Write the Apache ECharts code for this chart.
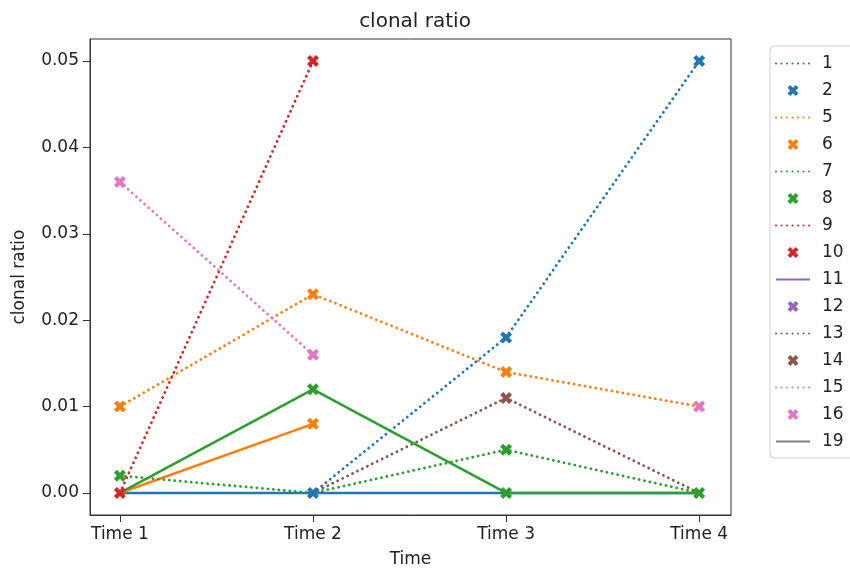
<!DOCTYPE html>
<html lang="en">
<head>
  <meta charset="UTF-8">
  <title>clonal ratio</title>
  <script src="https://cdn.jsdelivr.net/npm/echarts@6/dist/echarts.min.js"></script>
</head>
<body style="margin:0;">
  <div id="main" style="width: 850px;height:568px;"></div>
  <script>
    const times = ['Time 1', 'Time 2', 'Time 3', 'Time 4'];
    const yTicks = [0, 0.01, 0.02, 0.03, 0.04, 0.05];

    // values per time point, null = nothing drawn there
    const dotted1 = [null, 0, 0.018, 0.05];
    const marks2 = [null, 0, 0.018, 0.05];
    const dotted5 = [0.01, 0.023, 0.014, 0.01];
    const marks6 = [0.01, 0.023, 0.014, null];
    const marks6b = [null, 0.008, null, null];
    const dotted7 = [0.002, 0, 0.005, 0];
    const marks8 = [0.002, 0.012, 0.005, 0];
    const marks8b = [null, null, 0, null];
    const dotted9 = [0, 0.05, null, null];
    const marks10 = [0, 0.05, null, null];
    const solid11 = [null, null, null, null];
    const marks12 = [null, null, null, null];
    const dotted13 = [null, 0, 0.011, 0];
    const marks14 = [null, null, 0.011, null];
    const dotted15 = [0.036, 0.016, null, null];
    const marks16 = [0.036, 0.016, null, 0.01];
    const solid19 = [null, null, null, null];
    // solid lines that have no legend entry
    const solidBlue = [0, 0, 0, 0];
    const solidOrange = [0, 0.008, null, null];
    const solidGreen = [0, 0.012, 0, 0];

    const C = {
      blue: '#1f77b4', orange: '#ff7f0e', green: '#2ca02c', red: '#d62728',
      purple: '#9467bd', brown: '#8c564b', pink: '#e377c2', gray: '#7f7f7f'
    };
    const xMark = 'path://M0,2.5L2.5,0L5,2.5L7.5,0L10,2.5L7.5,5L10,7.5L7.5,10L5,7.5L2.5,10L0,7.5L2.5,5Z';

    function pts(arr) {
      const out = [];
      arr.forEach((v, i) => { if (v !== null) out.push([i, v]); });
      return out;
    }
    function line(name, arr, color, dotted, z) {
      return {
        name: name, type: 'line', data: pts(arr), symbol: 'none', z: z || 2,
        lineStyle: dotted
          ? { color: color, width: 2.8, type: [0.1, 5.4], cap: 'round' }
          : { color: color, width: 2.5, type: 'solid' },
        itemStyle: { color: color },
        emphasis: { disabled: true }, animation: false
      };
    }
    function marks(name, arrs, color, z) {
      let d = [];
      arrs.forEach(a => { d = d.concat(pts(a)); });
      return {
        name: name, type: 'scatter', data: d, symbol: xMark, symbolSize: 12, z: z || 5,
        itemStyle: { color: color, opacity: 1 },
        emphasis: { disabled: true }, animation: false
      };
    }

    const lineNames = ['1', '5', '7', '9', '11', '13', '15', '19'];
    const legendNames = ['1', '2', '5', '6', '7', '8', '9', '10', '11', '12', '13', '14', '15', '16', '19'];

    const series = [
      line('', solidBlue, C.blue, false, 2),
      line('', solidOrange, C.orange, false, 2),
      line('', solidGreen, C.green, false, 3),
      line('1', dotted1, C.blue, true),
      marks('2', [marks2], C.blue, 7),
      line('5', dotted5, C.orange, true),
      marks('6', [marks6, marks6b], C.orange),
      line('7', dotted7, C.green, true),
      marks('8', [marks8, marks8b], C.green),
      line('9', dotted9, C.red, true),
      marks('10', [marks10], C.red, 6),
      line('11', solid11, C.purple, false),
      marks('12', [marks12], C.purple),
      line('13', dotted13, C.brown, true),
      marks('14', [marks14], C.brown),
      line('15', dotted15, C.pink, true),
      marks('16', [marks16], C.pink, 6),
      line('19', solid19, C.gray, false)
    ];

    const myChart = echarts.init(document.getElementById('main'));
    const font = 'DejaVu Sans';
    myChart.setOption({
      backgroundColor: '#fff',
      textStyle: { fontFamily: font },
      title: {
        text: 'clonal ratio', left: 410, top: 7, textAlign: 'center',
        textStyle: { fontFamily: font, fontSize: 20, fontWeight: 'normal', color: '#222' }
      },
      grid: {
        left: 90, top: 39, width: 641, height: 476, outerBoundsMode: 'none',
        show: true, borderColor: '#333', borderWidth: 1
      },
      legend: {
        data: legendNames.map(n => lineNames.includes(n)
          ? { name: n, itemStyle: { opacity: 0 } }
          : { name: n }),
        orient: 'vertical', left: 770, top: 46,
        itemWidth: 34, itemHeight: 11, itemGap: 10,
        padding: [9, 40, 8, 5], borderColor: '#d0d0d0', borderWidth: 1, borderRadius: 4,
        textStyle: { fontFamily: font, fontSize: 17, color: '#222', padding: [0, 0, 0, 7] },
        selectedMode: false
      },
      xAxis: {
        type: 'value', min: -0.155, max: 3.165,
        name: 'Time', nameLocation: 'middle', nameGap: 36,
        nameTextStyle: { fontFamily: font, fontSize: 17, color: '#222' },
        axisLine: { show: true, onZero: false, lineStyle: { color: '#333' } },
        axisTick: { show: true, length: 7, customValues: [0, 1, 2, 3], lineStyle: { color: '#333' } },
        axisLabel: {
          customValues: [0, 1, 2, 3], formatter: v => times[Math.round(v)],
          fontFamily: font, fontSize: 17, color: '#222', margin: 11
        },
        splitLine: { show: false }
      },
      yAxis: {
        type: 'value', min: -0.00255, max: 0.05255,
        name: 'clonal ratio', nameLocation: 'middle', nameGap: 62,
        nameTextStyle: { fontFamily: font, fontSize: 17, color: '#222' },
        axisLine: { show: true, onZero: false, lineStyle: { color: '#333' } },
        axisTick: { show: true, length: 7, customValues: yTicks, lineStyle: { color: '#333' } },
        axisLabel: {
          customValues: yTicks, formatter: v => v.toFixed(2),
          fontFamily: font, fontSize: 17, color: '#222', margin: 11
        },
        splitLine: { show: false }
      },
      series: series
    });
  </script>
</body>
</html>
